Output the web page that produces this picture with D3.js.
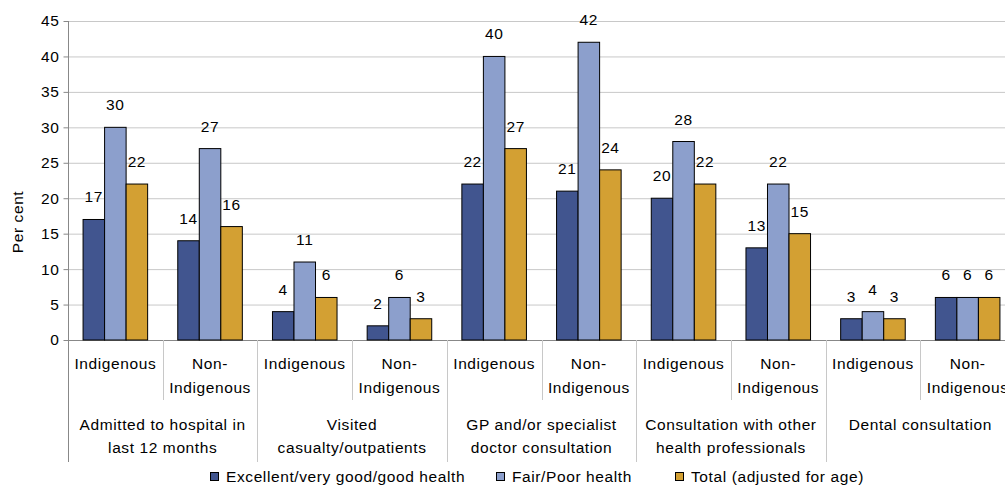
<!DOCTYPE html>
<html><head><meta charset="utf-8">
<script src="https://cdn.jsdelivr.net/npm/d3@7"></script>
<style>body{margin:0;background:#fff}svg{display:block;font-family:"Liberation Sans",Arial,sans-serif}svg text{letter-spacing:0.6px}</style>
</head><body><svg id="c" width="1005" height="486"></svg>
<script>
const groups = ["Admitted to hospital in|last 12 months","Visited|casualty/outpatients","GP and/or specialist|doctor consultation","Consultation with other|health professionals","Dental consultation"];
const subgroups = ["Indigenous","Non-|Indigenous"];
const seriesNames = ["Excellent/very good/good health","Fair/Poor health","Total (adjusted for age)"];
const goodHealth = [17,14,4,2,22,21,20,13,3,6];
const poorHealth = [30,27,11,6,40,42,28,22,4,6];
const totalAdj = [22,16,6,3,27,24,22,15,3,6];
const yTicks = [0,5,10,15,20,25,30,35,40,45];
const colors = ["#41558F","#8C9FCC","#D3A033"];

const FS = 15.5;
const svg = d3.select("#c");
const L=68, R=1015, T=21, B=340;
const cells = [];
groups.forEach((g,gi)=>subgroups.forEach((s,si)=>cells.push({g:gi,s:si,key:gi+"-"+si})));
const seriesData=[goodHealth,poorHealth,totalAdj];
const x = d3.scaleBand().domain(cells.map(d=>d.key)).range([L,R]).padding(0);
const xi = d3.scaleBand().domain([0,1,2]).range([0,x.bandwidth()]).paddingInner(0).paddingOuter(0.7);
const y = d3.scaleLinear().domain([0,45]).range([B,T]);

// gridlines
svg.append("g").selectAll("line").data(yTicks.filter(t=>t>0)).join("line")
  .attr("x1",L).attr("x2",R).attr("y1",d=>y(d)+0.5).attr("y2",d=>y(d)+0.5)
  .attr("stroke","#c8c8c8").attr("stroke-width",1);

// y axis
const ya = svg.append("g").attr("transform",`translate(${L+0.5},0)`)
  .call(d3.axisLeft(y).tickValues(yTicks).tickSize(5).tickPadding(4).tickSizeOuter(0));
ya.select(".domain").remove();
ya.selectAll("line").attr("stroke","#888");
ya.selectAll("text").attr("font-size",FS).attr("fill","#000").attr("font-family","Liberation Sans, Arial, sans-serif");
svg.append("line").attr("x1",L+0.5).attr("x2",L+0.5).attr("y1",T).attr("y2",462).attr("stroke","#888");
svg.append("line").attr("x1",L).attr("x2",R).attr("y1",B+0.5).attr("y2",B+0.5).attr("stroke","#888");

svg.append("text").attr("transform",`translate(23,222) rotate(-90)`).attr("text-anchor","middle")
  .attr("font-size",FS).text("Per cent");

// bars
seriesData.forEach((vals,si)=>{
  const g=svg.append("g");
  g.selectAll("rect").data(cells).join("rect")
    .attr("x",(d,i)=>x(d.key)+xi(si)).attr("width",xi.bandwidth())
    .attr("y",(d,i)=>y(vals[i])).attr("height",(d,i)=>y(0)-y(vals[i]))
    .attr("fill",colors[si]).attr("stroke","#000").attr("stroke-width",1);
  g.selectAll("text").data(cells).join("text")
    .attr("x",(d,i)=>x(d.key)+xi(si)+xi.bandwidth()/2).attr("y",(d,i)=>y(vals[i])-17)
    .attr("text-anchor","middle").attr("font-size",FS).text((d,i)=>vals[i]);
});

// separators
cells.forEach((d,i)=>{
  if(i===0) return;
  const xx=Math.round(x(d.key))+0.5;
  svg.append("line").attr("x1",xx).attr("x2",xx).attr("y1",B).attr("y2",d.s===0?462:400).attr("stroke","#c8c8c8");
});

// subgroup labels
cells.forEach(d=>{
  const lines=subgroups[d.s].split("|");
  const t=svg.append("text").attr("text-anchor","middle").attr("font-size",FS);
  lines.forEach((ln,k)=>t.append("tspan").attr("x",x(d.key)+x.bandwidth()/2).attr("y",369+k*24).text(ln));
});
// group labels
groups.forEach((g,gi)=>{
  const cx=x(gi+"-0")+x.bandwidth();
  const t=svg.append("text").attr("text-anchor","middle").attr("font-size",FS);
  g.split("|").forEach((ln,k)=>t.append("tspan").attr("x",cx).attr("y",430+k*23).text(ln));
});

// legend
const lx=[210,496,675];
seriesNames.forEach((n,i)=>{
  svg.append("rect").attr("x",lx[i]+0.5).attr("y",472.5).attr("width",8).attr("height",8).attr("fill",colors[i]).attr("stroke","#000");
  svg.append("text").attr("x",lx[i]+16).attr("y",482).attr("font-size",FS).text(n);
});
</script></body></html>
